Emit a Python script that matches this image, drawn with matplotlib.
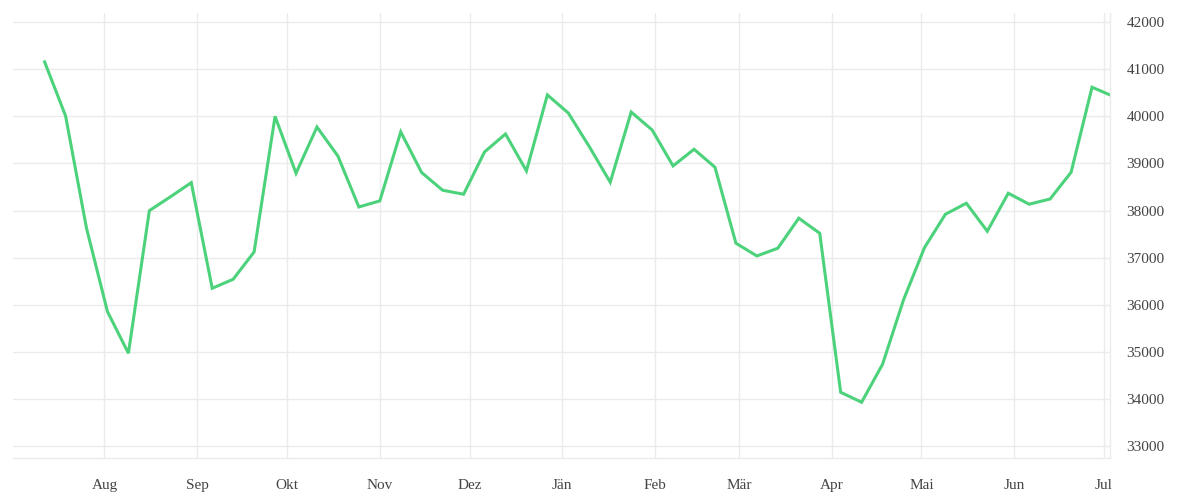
import pandas as pd
import matplotlib
matplotlib.use("Agg")
import matplotlib.pyplot as plt

# weekly values, Jul 2021 - Jul 2022
dates = list(pd.date_range("2021-07-12", periods=51, freq="7D")) + [pd.Timestamp("2022-07-03")]
values = [41155, 40010, 37624, 35854, 34970, 37998, 38290, 38592, 36350, 36541,
          37121, 40000, 38792, 39773, 39157, 38076, 38204, 39669, 38805, 38431,
          38346, 39244, 39626, 38841, 40454, 40070, 39357, 38601, 40091, 39711,
          38947, 39301, 38919, 37306, 37036, 37200, 37837, 37518, 34142, 33930,
          34737, 36102, 37212, 37921, 38155, 37561, 38367, 38134, 38246, 38813,
          40618, 40454]

month_labels = ["Aug", "Sep", "Okt", "Nov", "Dez", "Jän", "Feb", "Mär", "Apr", "Mai", "Jun", "Jul"]
month_starts = pd.date_range("2021-08-01", periods=12, freq="MS")
y_ticks = list(range(33000, 42001, 1000))

plt.rcParams["font.family"] = ["Liberation Serif", "DejaVu Serif"]

fig = plt.figure(figsize=(12, 5), dpi=100)
ax = fig.add_axes([0.011, 0.0834, 0.914, 0.8912])

ax.plot(dates, values, color="#4cd27b", lw=2.2, solid_joinstyle="miter")

ax.set_xlim(pd.Timestamp("2021-07-01 12:00"), pd.Timestamp("2022-07-03"))
ax.set_ylim(32740, 42200)

ax.set_xticks(month_starts)
ax.set_xticklabels(month_labels)
ax.set_yticks(y_ticks)
ax.yaxis.tick_right()

ax.grid(True, color="#ebebeb", lw=1)
ax.set_axisbelow(True)
for side in ["top", "left"]:
    ax.spines[side].set_visible(False)
for side in ["bottom", "right"]:
    ax.spines[side].set_color("#ebebeb")
    ax.spines[side].set_linewidth(1)

ax.tick_params(axis="x", length=0, pad=15, labelsize=11, labelcolor="#444444")
ax.tick_params(axis="y", length=0, pad=12, labelsize=11, labelcolor="#444444")

fig.savefig("out.png", dpi=100, facecolor="white")
